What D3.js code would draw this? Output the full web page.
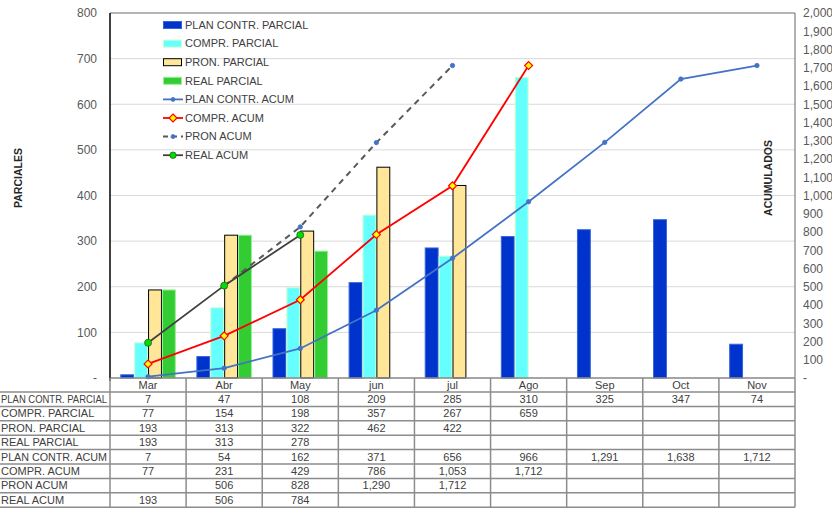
<!DOCTYPE html>
<html>
<head>
    <meta charset="UTF-8">
    <style>
        body { margin: 0; background: #fff; }
        svg { display: block; font-family: "Liberation Sans", Arial, sans-serif; }
    </style>
</head>
<body>
    <svg></svg>
    <script src="https://d3js.org/d3.v7.min.js"></script>
    <script>
        // data
        let months = ["Mar", "Abr", "May", "jun", "jul", "Ago", "Sep", "Oct", "Nov"];
        let planParcial = [7, 47, 108, 209, 285, 310, 325, 347, 74];
        let comprParcial = [77, 154, 198, 357, 267, 659, null, null, null];
        let pronParcial = [193, 313, 322, 462, 422, null, null, null, null];
        let realParcial = [193, 313, 278, null, null, null, null, null, null];
        let planAcum = [7, 54, 162, 371, 656, 966, 1291, 1638, 1712];
        let comprAcum = [77, 231, 429, 786, 1053, 1712, null, null, null];
        let pronAcum = [null, 506, 828, 1290, 1712, null, null, null, null];
        let realAcum = [193, 506, 784, null, null, null, null, null, null];
        let leftTicks = [0, 100, 200, 300, 400, 500, 600, 700, 800];

        let width = 832, height = 511;
        let pLeft = 110, pRight = 795, pTop = 13, pBottom = 378;

        let svg = d3.select("svg")
            .attr("width", width)
            .attr("height", height);

        let x0 = d3.scaleBand()
            .domain(months)
            .range([pLeft, pRight])
            .paddingInner(0.27)
            .paddingOuter(0.135);

        let barKeys = ["plan", "compr", "pron", "real"];
        let x1 = d3.scaleBand()
            .domain(barKeys)
            .range([0, x0.bandwidth()]);

        let yL = d3.scaleLinear().domain([0, 800]).range([pBottom, pTop]);
        let yR = d3.scaleLinear().domain([0, 2000]).range([pBottom, pTop]);

        let step = x0.step();
        let cx = m => x0(m) + x0.bandwidth() / 2;

        // grid
        svg.append("g")
            .selectAll("line")
            .data(leftTicks.slice(1))
            .enter()
            .append("line")
            .attr("x1", pLeft)
            .attr("x2", pRight)
            .attr("y1", d => yL(d))
            .attr("y2", d => yL(d))
            .attr("stroke", "#d9d9d9")
            .attr("stroke-width", 1);

        // border
        svg.append("line").attr("x1", pLeft).attr("x2", pRight).attr("y1", pTop).attr("y2", pTop)
            .attr("stroke", "#7f7f7f").attr("stroke-width", 1.2);
        svg.append("line").attr("x1", pRight).attr("x2", pRight).attr("y1", pTop).attr("y2", pBottom)
            .attr("stroke", "#7f7f7f").attr("stroke-width", 1.2);

        // bars
        let barSeries = [
            { key: "plan", name: "PLAN CONTR. PARCIAL", values: planParcial, fill: "#0033cc", stroke: "#3366dd" },
            { key: "compr", name: "COMPR. PARCIAL", values: comprParcial, fill: "#66ffff", stroke: "#ccffcc" },
            { key: "pron", name: "PRON. PARCIAL", values: pronParcial, fill: "#ffe699", stroke: "#000000" },
            { key: "real", name: "REAL PARCIAL", values: realParcial, fill: "#33cc33", stroke: "#99ee99" }
        ];

        barSeries.forEach(s => {
            svg.append("g")
                .selectAll("rect")
                .data(months.map((m, i) => ({ m: m, v: s.values[i] })).filter(d => d.v != null))
                .enter()
                .append("rect")
                .attr("x", d => x0(d.m) + x1(s.key) + 0.5)
                .attr("y", d => yL(d.v))
                .attr("width", x1.bandwidth() - 1)
                .attr("height", d => pBottom - yL(d.v))
                .attr("fill", s.fill)
                .attr("stroke", s.stroke)
                .attr("stroke-width", 1);
        });

        // axis lines
        svg.append("line").attr("x1", pLeft).attr("x2", pRight).attr("y1", pBottom).attr("y2", pBottom)
            .attr("stroke", "#7f7f7f").attr("stroke-width", 1.2);
        svg.append("line").attr("x1", pLeft).attr("x2", pLeft).attr("y1", pTop).attr("y2", pBottom + 3)
            .attr("stroke", "#000").attr("stroke-width", 1.5);

        // lines
        let lineSeries = [
            { name: "PLAN CONTR. ACUM", values: planAcum, stroke: "#4472c4", width: 1.8, dash: null, marker: "dot", mfill: "#4472c4", mstroke: "#4472c4" },
            { name: "COMPR. ACUM", values: comprAcum, stroke: "#ff0000", width: 1.8, dash: null, marker: "diamond", mfill: "#ffff00", mstroke: "#ff0000" },
            { name: "PRON ACUM", values: pronAcum, stroke: "#595959", width: 2, dash: "6,5", marker: "dot", mfill: "#4472c4", mstroke: "#4472c4" },
            { name: "REAL ACUM", values: realAcum, stroke: "#404040", width: 1.8, dash: null, marker: "circle", mfill: "#00dd00", mstroke: "#206020" }
        ];

        let line = d3.line()
            .defined(d => d.v != null)
            .x(d => cx(d.m))
            .y(d => yR(d.v));

        lineSeries.forEach(s => {
            let pts = months.map((m, i) => ({ m: m, v: s.values[i] }));
            svg.append("path")
                .datum(pts)
                .attr("d", line)
                .attr("fill", "none")
                .attr("stroke", s.stroke)
                .attr("stroke-width", s.width)
                .attr("stroke-dasharray", s.dash);

            let g = svg.append("g");
            let valid = pts.filter(d => d.v != null);
            if (s.marker == "diamond") {
                g.selectAll("path").data(valid).enter().append("path")
                    .attr("d", d3.symbol().type(d3.symbolDiamond2).size(40))
                    .attr("transform", d => "translate(" + cx(d.m) + "," + yR(d.v) + ")")
                    .attr("fill", s.mfill).attr("stroke", s.mstroke).attr("stroke-width", 1.2);
            } else {
                g.selectAll("circle").data(valid).enter().append("circle")
                    .attr("cx", d => cx(d.m))
                    .attr("cy", d => yR(d.v))
                    .attr("r", s.marker == "dot" ? 2.2 : 3.5)
                    .attr("fill", s.mfill).attr("stroke", s.mstroke).attr("stroke-width", 0.8);
            }
        });

        // left axis
        svg.append("g")
            .attr("transform", "translate(" + pLeft + ",0)")
            .call(d3.axisLeft(yL).tickValues(leftTicks).tickSize(0).tickPadding(13)
                .tickFormat(d => d === 0 ? "-" : d))
            .call(g => g.select(".domain").remove())
            .selectAll("text")
            .attr("fill", "#595959")
            .style("font-size", "12px")
            .style("font-family", "Liberation Sans, Arial, sans-serif");

        // right axis
        svg.append("g")
            .attr("transform", "translate(" + pRight + ",0)")
            .call(d3.axisRight(yR).ticks(20).tickSize(0).tickPadding(8)
                .tickFormat(d => d === 0 ? "-" : d3.format(",")(d)))
            .call(g => g.select(".domain").remove())
            .selectAll("text")
            .attr("fill", "#595959")
            .style("font-size", "12px")
            .style("font-family", "Liberation Sans, Arial, sans-serif");

        // axis titles
        svg.append("text")
            .attr("transform", "translate(22," + 178 + ") rotate(-90)")
            .attr("text-anchor", "middle")
            .style("font-size", "10.5px")
            .style("font-weight", "bold")
            .attr("fill", "#262626")
            .text("PARCIALES");
        svg.append("text")
            .attr("transform", "translate(772," + 178 + ") rotate(-90)")
            .attr("text-anchor", "middle")
            .style("font-size", "10.5px")
            .style("font-weight", "bold")
            .attr("fill", "#262626")
            .text("ACUMULADOS");

        // legend
        let legend = svg.append("g").attr("transform", "translate(163,25)");
        let legendItems = barSeries.map(s => ({ type: "bar", s: s })).concat(lineSeries.map(s => ({ type: "line", s: s })));
        legendItems.forEach((d, i) => {
            let g = legend.append("g").attr("transform", "translate(0," + (i * 18.6) + ")");
            if (d.type == "bar") {
                g.append("rect").attr("x", 0.5).attr("y", -3.5).attr("width", 18).attr("height", 7)
                    .attr("fill", d.s.fill).attr("stroke", d.s.stroke).attr("stroke-width", 1);
            } else {
                g.append("line").attr("x1", 0).attr("x2", 20).attr("y1", 0).attr("y2", 0)
                    .attr("stroke", d.s.stroke).attr("stroke-width", d.s.width)
                    .attr("stroke-dasharray", d.s.dash ? "5,4" : null);
                if (d.s.marker == "diamond") {
                    g.append("path").attr("d", d3.symbol().type(d3.symbolDiamond2).size(40))
                        .attr("transform", "translate(10,0)")
                        .attr("fill", d.s.mfill).attr("stroke", d.s.mstroke).attr("stroke-width", 1.2);
                } else {
                    g.append("circle").attr("cx", 10).attr("cy", 0).attr("r", d.s.marker == "dot" ? 2 : 3.2)
                        .attr("fill", d.s.mfill).attr("stroke", d.s.mstroke).attr("stroke-width", 0.8);
                }
            }
            g.append("text").attr("x", 22).attr("y", 0).attr("dy", "0.35em")
                .style("font-size", "11px").attr("fill", "#404040")
                .text(d.s.name);
        });

        // data table
        let rowH = 14.4;
        let headerTop = pBottom, headerBottom = 392;
        let tableRows = barSeries.map(s => ({ name: s.name, values: s.values }))
            .concat(lineSeries.map(s => ({ name: s.name, values: s.values })));
        let table = svg.append("g");
        let gridColor = "#8c8c8c";

        // horizontal lines
        let hLines = [headerBottom].concat(tableRows.map((r, i) => headerBottom + (i + 1) * rowH));
        table.selectAll("line.h")
            .data(hLines)
            .enter()
            .append("line")
            .attr("x1", 0).attr("x2", pRight)
            .attr("y1", d => d).attr("y2", d => d)
            .attr("stroke", gridColor).attr("stroke-width", 1.5);
        table.append("line").attr("x1", pLeft).attr("x2", pRight).attr("y1", headerTop).attr("y2", headerTop)
            .attr("stroke", gridColor).attr("stroke-width", 1.2);

        // vertical lines
        let tableBottom = hLines[hLines.length - 1];
        let vLines = [pLeft].concat(months.map(m => cx(m) + step / 2));
        table.selectAll("line.v")
            .data(vLines)
            .enter()
            .append("line")
            .attr("x1", d => d).attr("x2", d => d)
            .attr("y1", headerTop).attr("y2", tableBottom)
            .attr("stroke", gridColor).attr("stroke-width", 1.5);

        // header
        table.selectAll("text.m")
            .data(months)
            .enter()
            .append("text")
            .attr("x", d => cx(d))
            .attr("y", (headerTop + headerBottom) / 2)
            .attr("dy", "0.35em")
            .attr("text-anchor", "middle")
            .style("font-size", "11px")
            .attr("fill", "#404040")
            .text(d => d);

        tableRows.forEach((r, i) => {
            let yc = headerBottom + i * rowH + rowH / 2;
            let label = table.append("text")
                .attr("x", 1)
                .attr("y", yc)
                .attr("dy", "0.35em")
                .style("font-size", "11px")
                .attr("fill", "#404040")
                .text(r.name);
            // keep row labels inside the label column
            if (label.node().getComputedTextLength() > pLeft - 4) {
                label.attr("textLength", pLeft - 4).attr("lengthAdjust", "spacingAndGlyphs");
            }
            table.append("g")
                .selectAll("text")
                .data(months.map((m, j) => ({ m: m, v: r.values[j] })).filter(d => d.v != null))
                .enter()
                .append("text")
                .attr("x", d => cx(d.m))
                .attr("y", yc)
                .attr("dy", "0.35em")
                .attr("text-anchor", "middle")
                .style("font-size", "11px")
                .attr("fill", "#404040")
                .text(d => d3.format(",")(d.v));
        });
    </script>
</body>
</html>
